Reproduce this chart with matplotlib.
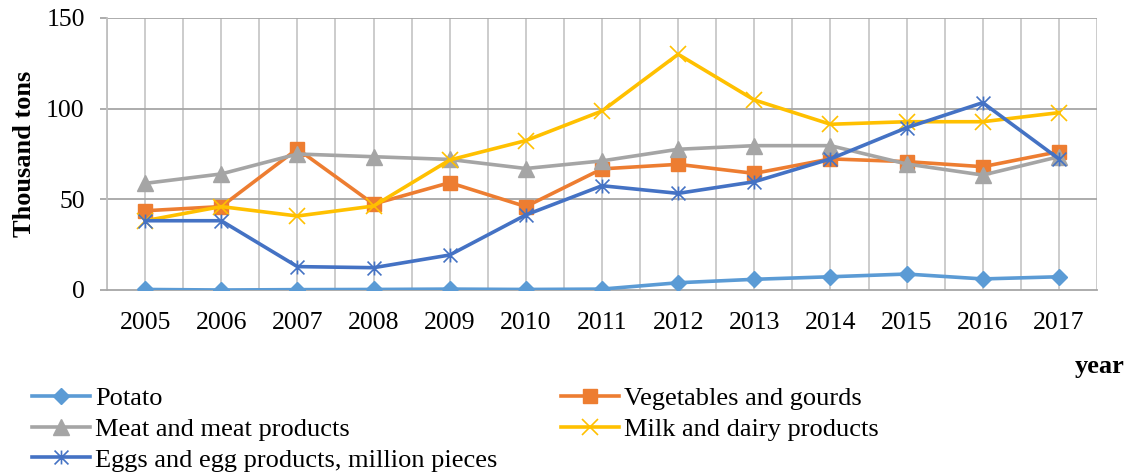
import numpy as np
import matplotlib
matplotlib.use('Agg')
import matplotlib.pyplot as plt
from matplotlib.path import Path

plt.rcParams['font.family'] = ['Liberation Serif', 'DejaVu Serif']

years = ['2005', '2006', '2007', '2008', '2009', '2010', '2011',
         '2012', '2013', '2014', '2015', '2016', '2017']

potato = [0.3, 0.0, 0.2, 0.3, 0.5, 0.3, 0.5, 4.0, 5.9, 7.3, 8.8, 6.1, 7.3]
vegetables = [43.7, 46.0, 77.8, 47.4, 59.2, 46.0, 66.8, 69.3, 64.3, 72.3, 70.8, 68.0, 76.3]
meat = [58.8, 64.0, 75.0, 73.5, 72.0, 67.0, 71.2, 77.6, 79.6, 79.6, 69.5, 63.4, 73.5]
milk = [38.2, 46.0, 40.8, 46.3, 71.7, 82.4, 98.7, 130.0, 104.8, 91.4, 92.8, 92.8, 97.8]
eggs = [38.2, 38.2, 12.9, 12.3, 19.3, 41.4, 57.5, 53.3, 59.7, 72.3, 89.5, 103.3, 72.3]

labels = ['Potato', 'Vegetables and gourds', 'Meat and meat products',
          'Milk and dairy products', 'Eggs and egg products, million pieces']

# excel style star: an x with a vertical bar through it
star = Path([(-1, -1), (1, 1), (-1, 1), (1, -1), (0, -1), (0, 1)],
            [Path.MOVETO, Path.LINETO, Path.MOVETO, Path.LINETO, Path.MOVETO, Path.LINETO])

fig = plt.figure(figsize=(11.31, 4.74), dpi=100)
ax = fig.add_axes([107/1131, 1-290/474, 990/1131, 272/474])

x = np.arange(len(years))
lw = 2.6
h1, = ax.plot(x, potato, color='#5B9BD5', lw=lw, marker='D', ms=8, label=labels[0], zorder=3)
h2, = ax.plot(x, vegetables, color='#ED7D31', lw=lw, marker='s', ms=10, label=labels[1], zorder=3)
h3, = ax.plot(x, meat, color='#A5A5A5', lw=lw, marker='^', ms=11, label=labels[2], zorder=3)
h4, = ax.plot(x, milk, color='#FFC000', lw=lw, marker='x', ms=11, mew=1.2, label=labels[3], zorder=3)
h5, = ax.plot(x, eggs, color='#4472C4', lw=lw, marker=star, ms=10, mew=1.2, label=labels[4], zorder=3)

ax.set_xlim(-0.5, len(years) - 0.5)
ax.set_ylim(0, 150)
ax.set_yticks([0, 50, 100, 150])
ax.set_xticks(x)
ax.set_xticklabels(years)

# vertical grid at every half category, horizontal grid at major ticks
for v in np.arange(-0.5, len(years), 0.5):
    ax.axvline(v, color='#C8C8C8', lw=1.3, zorder=1)
for yv in [50, 100, 150]:
    ax.axhline(yv, color='#A6A6A6', lw=1.3, zorder=1)

for s in ['top', 'right']:
    ax.spines[s].set_visible(False)
ax.spines['left'].set_color('#BFBFBF')
ax.spines['left'].set_linewidth(1.3)
ax.spines['bottom'].set_color('#A6A6A6')
ax.spines['bottom'].set_linewidth(1.3)

ax.tick_params(axis='y', length=5, width=1.3, color='#A6A6A6', pad=11, labelsize=18.5)
ax.tick_params(axis='x', length=0, pad=16, labelsize=18.5)

ax.set_ylabel('Thousand tons', fontsize=19, fontweight='bold', labelpad=7)
fig.text(1125/1131, 1-366/474, 'year', fontsize=19, fontweight='bold', ha='right', va='center')

handles = [h1, h3, h5, h2, h4]
fig.legend(handles, [h.get_label() for h in handles], ncol=2, loc='upper left',
           bbox_to_anchor=(32/1131, 1-387/474), frameon=False, fontsize=19,
           handlelength=2.2, handletextpad=0.2, columnspacing=2.4,
           labelspacing=0.27, borderpad=0, borderaxespad=0)

plt.savefig('out.png', dpi=100)
